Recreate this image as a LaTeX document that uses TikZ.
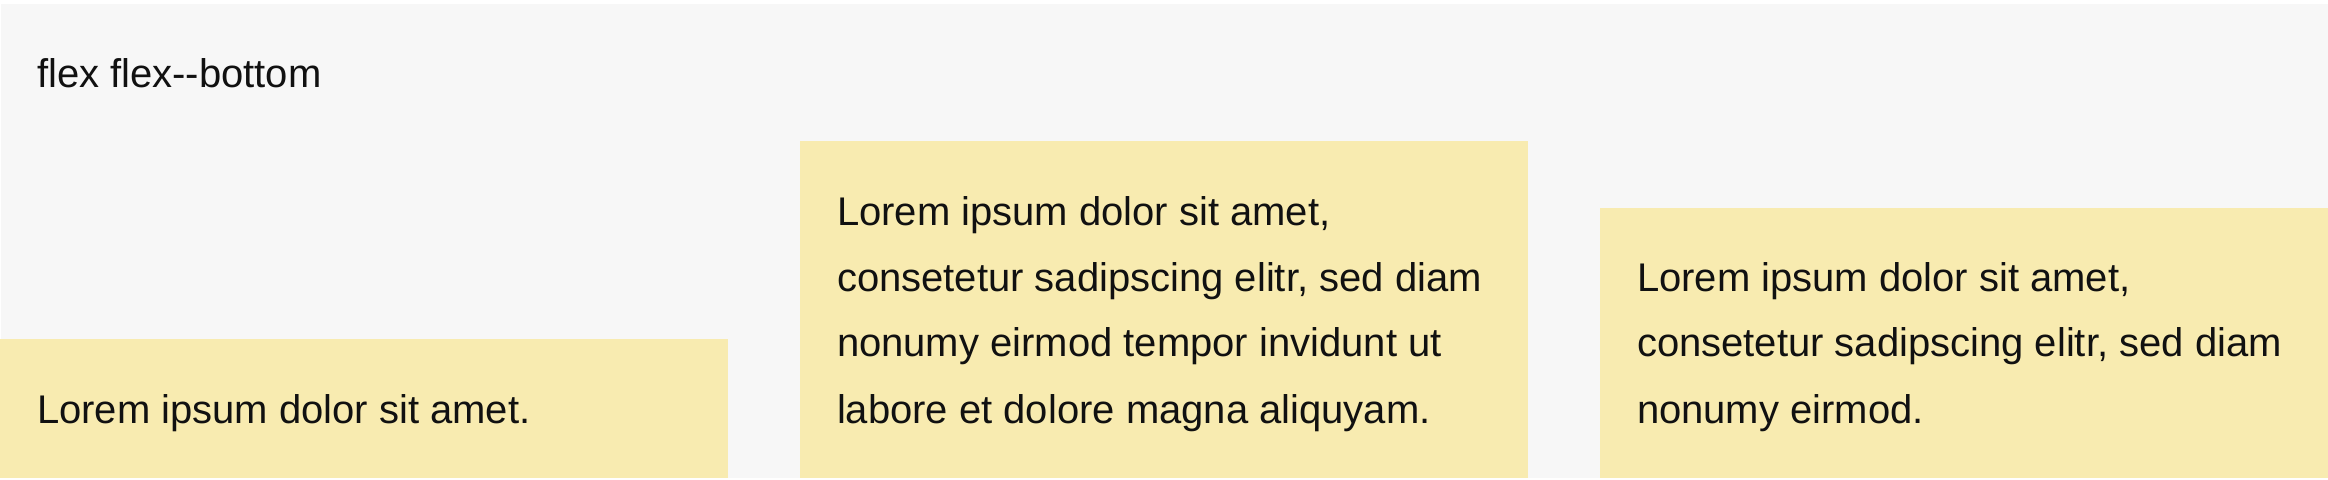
\documentclass[tikz,border=0pt]{standalone}
\usepackage{fontspec}
\setmainfont{Liberation Sans}
\definecolor{pagebg}{HTML}{F7F7F7}
\definecolor{cardbg}{HTML}{F8EBB0}
\definecolor{ink}{HTML}{111111}
\begin{document}
\begin{tikzpicture}[x=0.5pt,y=-0.5pt,
  cardbox/.style={fill=cardbg, draw=none, inner sep=0pt, outer sep=0pt, anchor=south west, minimum width=364pt},
  line/.style={anchor=base west, inner sep=0pt, outer sep=0pt, text=ink, font=\fontsize{20}{24}\selectfont}]
\useasboundingbox (0,0) rectangle (2328,480);
\fill[white] (0,0) rectangle (2328,480);
\fill[pagebg] (1,4) rectangle (2328,478);
% cards
\node[cardbox, minimum height=69.5pt] (c1) at (0,478) {};
\node[cardbox, minimum height=168.5pt] (c2) at (800,478) {};
\node[cardbox, minimum height=135pt] (c3) at (1600,478) {};
% title
\node[line] (title) at (37,88) {flex flex-{}-bottom};
% card 1
\node[line] (a1) at (37,423) {Lorem ipsum dolor sit amet.};
% card 2
\node[line] (b1) at (837,226) {Lorem ipsum dolor sit amet,};
\node[line] (b2) at (837,292) {consetetur sadipscing elitr, sed diam};
\node[line] (b3) at (837,357) {nonumy eirmod tempor invidunt ut};
\node[line] (b4) at (837,423) {labore et dolore magna aliquyam.};
% card 3
\node[line] (d1) at (1637,292) {Lorem ipsum dolor sit amet,};
\node[line] (d2) at (1637,357) {consetetur sadipscing elitr, sed diam};
\node[line] (d3) at (1637,423) {nonumy eirmod.};
\end{tikzpicture}
\end{document}
